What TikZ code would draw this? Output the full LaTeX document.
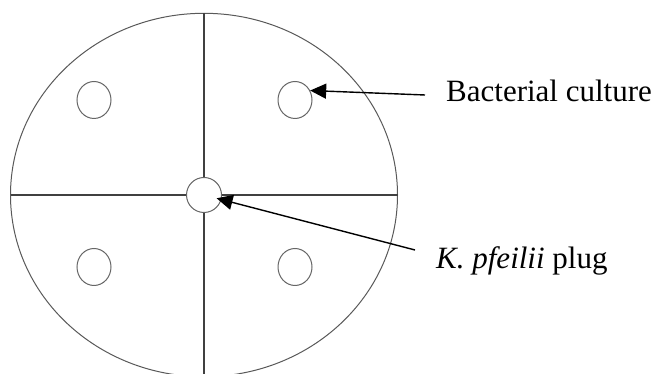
\documentclass[tikz,border=0pt]{standalone}
\usepackage{fontspec}
\setmainfont{Liberation Serif}
\usetikzlibrary{arrows.meta,shapes.geometric}
\begin{document}
\begin{tikzpicture}[x=1pt, y=1pt,
      placa/.style={draw=black!65, line width=1pt},
      cruz/.style={draw=black!75, line width=1.6pt},
      pozo/.style={ellipse, draw=black!60, line width=1pt, fill=white, minimum width=34pt, minimum height=37pt, inner sep=0pt},
      tapon/.style={circle, draw=black!60, line width=1pt, fill=white, minimum size=35pt, inner sep=0pt},
      flecha/.style={draw=black, line width=1.4pt, -{Triangle[length=16pt,width=15pt]}},
      etiqueta/.style={font=\fontsize{31}{36}\selectfont, anchor=base west, inner sep=0pt}
    ]
    \useasboundingbox (0,0) rectangle (659,374);
    % --- placa de Petri y cuadrantes ---
    \draw[placa] (204,179) ellipse [x radius=193.5, y radius=181.7];
    \draw[cruz] (204,361) -- (204,0);
    \draw[cruz] (10.5,179) -- (397.5,179);
    % --- pozos con cultivo bacteriano ---
    \node[pozo] (ul) at (94,274) {};
    \node[pozo] (ur) at (295,274) {};
    \node[pozo] (ll) at (94,107) {};
    \node[pozo] (lr) at (295,107) {};
    \node[tapon] (plug) at (204,179) {};
    % --- etiquetas ---
    \node[etiqueta] (cultivo) at (446,272.5) {Bacterial culture};
    \node[etiqueta] (kp) at (436,105.5) {\textit{K. pfeilii} plug};
    \coordinate (cultivoIni) at (425,279);
    \coordinate (kpIni) at (415,124);
    \draw[flecha] (cultivoIni) -- (ur.32);
    \draw[flecha, shorten >=-5pt] (kpIni) -- (plug);
  \end{tikzpicture}
\end{document}
